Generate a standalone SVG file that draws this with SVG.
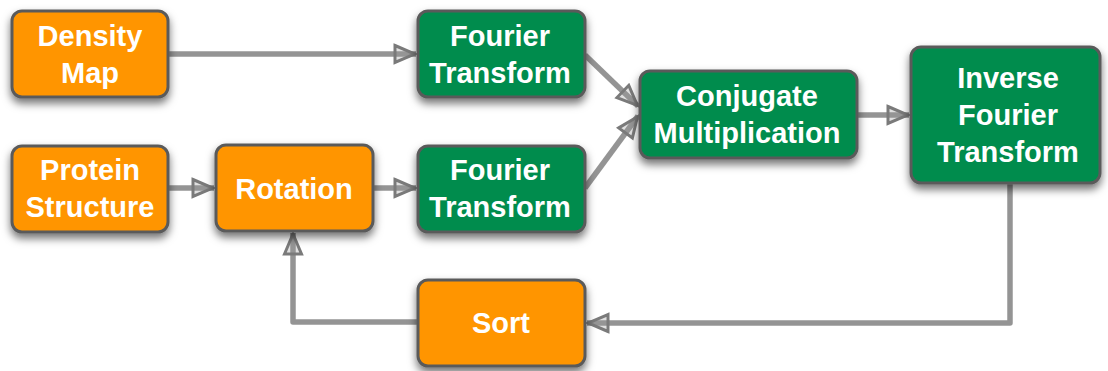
<svg xmlns="http://www.w3.org/2000/svg" width="1108" height="371" viewBox="0 0 1108 371">
<defs>
<filter id="sh" x="-20%" y="-20%" width="140%" height="150%">
<feDropShadow dx="0" dy="5" stdDeviation="4" flood-color="#000" flood-opacity="0.55"/>
</filter>
<marker id="ah" viewBox="0 0 26 22" refX="24" refY="11" markerWidth="26" markerHeight="22" markerUnits="userSpaceOnUse" orient="auto">
<path d="M3,2.5 L23,11 L3,19.5 Z" fill="#999" fill-opacity="0.3" stroke="#7a7a7a" stroke-width="3" stroke-linejoin="miter"/>
</marker>
</defs>
<style>
.box{stroke:#5a5a5a;stroke-width:3;}
.or{fill:#FF9500;}
.gr{fill:#008C4E;}
.t{font-family:"Liberation Sans",Arial,sans-serif;font-weight:bold;font-size:29px;fill:#fff;text-anchor:middle;}
.c{fill:none;stroke:#707070;stroke-opacity:0.75;stroke-width:5.5;stroke-linejoin:round;marker-end:url(#ah);}
</style>
<g id="connectors">
<path class="c" d="M169,54 L416,54"/>
<path class="c" d="M168,188 L214,188"/>
<path class="c" d="M373,188 L416,188"/>
<path class="c" d="M585,55 L638,106"/>
<path class="c" d="M585,188 L638,116"/>
<path class="c" d="M857,115 L909,115"/>
<path class="c" d="M1010,183 L1010,323 L587,323"/>
<path class="c" d="M418,322 L293,322 L293,233"/>
</g>
<g id="density-map">
<rect class="box or" x="12" y="11" width="156" height="86" rx="10" filter="url(#sh)"/>
<text class="t" x="90" y="46">Density</text>
<text class="t" x="90" y="83">Map</text>
</g>
<g id="fourier-transform-1">
<rect class="box gr" x="418" y="11" width="167" height="86" rx="10" filter="url(#sh)"/>
<text class="t" x="500" y="46">Fourier</text>
<text class="t" x="500" y="83">Transform</text>
</g>
<g id="protein-structure">
<rect class="box or" x="12" y="146" width="156" height="86" rx="10" filter="url(#sh)"/>
<text class="t" x="90" y="180">Protein</text>
<text class="t" x="90" y="217">Structure</text>
</g>
<g id="rotation">
<rect class="box or" x="216" y="145" width="157" height="86" rx="10" filter="url(#sh)"/>
<text class="t" x="294" y="199">Rotation</text>
</g>
<g id="fourier-transform-2">
<rect class="box gr" x="418" y="146" width="167" height="86" rx="10" filter="url(#sh)"/>
<text class="t" x="500" y="180">Fourier</text>
<text class="t" x="500" y="217">Transform</text>
</g>
<g id="conjugate-multiplication">
<rect class="box gr" x="640" y="71" width="217" height="87" rx="10" filter="url(#sh)"/>
<text class="t" x="747" y="106">Conjugate</text>
<text class="t" x="747" y="143">Multiplication</text>
</g>
<g id="inverse-fourier-transform">
<rect class="box gr" x="911" y="47" width="189" height="136" rx="10" filter="url(#sh)"/>
<text class="t" x="1008" y="88">Inverse</text>
<text class="t" x="1008" y="125">Fourier</text>
<text class="t" x="1008" y="162">Transform</text>
</g>
<g id="sort">
<rect class="box or" x="418" y="280" width="167" height="86" rx="10" filter="url(#sh)"/>
<text class="t" x="501" y="333">Sort</text>
</g>
</svg>
